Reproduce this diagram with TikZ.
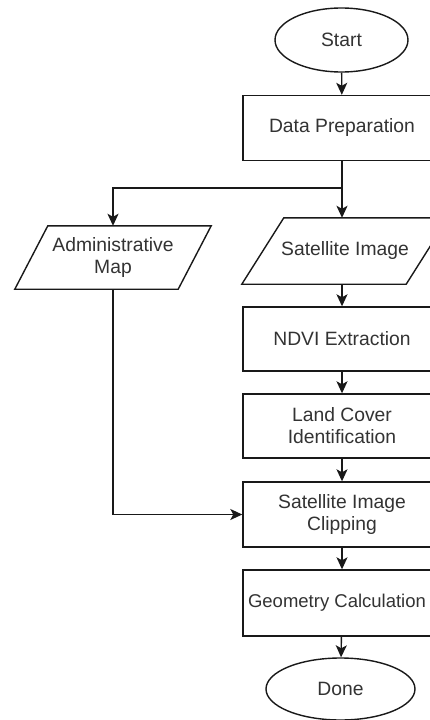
\documentclass[tikz,border=0pt]{standalone}
\usepackage{fontspec}
\setmainfont{Liberation Sans}
\usetikzlibrary{arrows.meta,shapes.geometric}
\begin{document}
\begin{tikzpicture}[x=1pt,y=-1pt,
  line/.style={draw=black!90, line width=1.4pt},
  arr/.style={line, -{Stealth[length=12pt,width=11pt,inset=3pt]}},
  txt/.style={font=\fontsize{19.3}{22}\selectfont, text=black!80, align=center},
  procbox/.style={txt, line, rectangle, minimum width=198pt, minimum height=65pt, inner sep=0pt},
  term/.style={txt, line, ellipse, inner sep=0pt},
  para/.style={txt, rectangle, inner sep=0pt}]
\path[use as bounding box, clip] (0,0) rectangle (430,720);
\fill[white] (0,0) rectangle (430,720);
% terminals
\node[term, minimum width=133pt, minimum height=64pt] (start) at (341.5,40) {Start};
\node[term, minimum width=149pt, minimum height=62pt] (done) at (340.5,689) {Done};
% process boxes
\node[procbox] (dp) at (342,128) {Data Preparation};
\node[procbox, minimum height=64pt] (ndvi) at (342,339) {NDVI Extraction};
\node[procbox, minimum height=64pt] (land) at (342,426) {Land Cover\\Identification};
\node[procbox] (clip) at (342,514.5) {Satellite Image\\Clipping};
\node[procbox, minimum height=66pt] (geo) at (342,603) {};
\node[txt, font=\fontsize{18.5}{22}\selectfont, inner sep=0pt] (geotxt) at (337,603) {Geometry Calculation};
% parallelograms (data)
\node[para, minimum width=196pt, minimum height=63pt] (adm) at (113,257.5) {Administrative\\Map};
\draw[line] ([xshift=33pt]adm.north west) -- (adm.north east) -- ([xshift=-33pt]adm.south east) -- (adm.south west) -- cycle;
\node[para, minimum width=206pt, minimum height=66pt] (sat) at (345,251) {Satellite Image};
\draw[line] ([xshift=42pt]sat.north west) -- (sat.north east) -- ([xshift=-42pt]sat.south east) -- (sat.south west) -- cycle;
% connectors
\coordinate (br) at (342,188);
\draw[arr] (start) -- (dp);
\draw[arr] (dp.south) -- (dp.south |- sat.north);
\draw[arr] (br) -| (adm.north);
\draw[arr] (dp.south |- sat.south) -- (ndvi.north);
\draw[arr] (ndvi) -- (land);
\draw[arr] (land) -- (clip);
\draw[arr] (adm.south) |- (clip.west);
\draw[arr] (clip) -- (geo);
\draw[arr] (geo) -- (done);
\end{tikzpicture}
\end{document}
